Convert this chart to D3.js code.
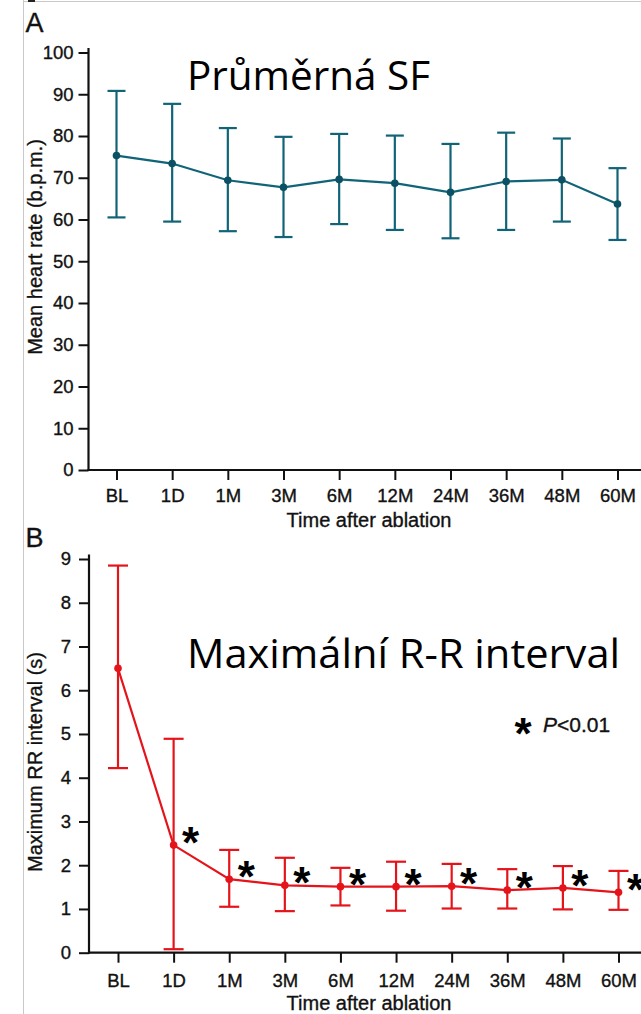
<!DOCTYPE html>
<html><head><meta charset="utf-8">
<script src="https://cdn.jsdelivr.net/npm/d3@7"></script>
<style>html,body{margin:0;padding:0;background:#fff;}svg{display:block;}</style>
</head><body>
<script>
// ---- data ----
const categories = ["BL","1D","1M","3M","6M","12M","24M","36M","48M","60M"];
const hrMean  = [75.3,73.4,69.4,67.7,69.6,68.7,66.5,69.1,69.5,63.7];
const hrUpper = [90.8,87.7,81.9,79.8,80.5,80.1,78.1,80.8,79.4,72.3];
const hrLower = [60.5,59.5,57.2,55.8,58.9,57.5,55.5,57.5,59.5,55.1];
const rrMean  = [6.50,2.46,1.68,1.54,1.51,1.51,1.52,1.43,1.48,1.38];
const rrUpper = [8.85,4.89,2.35,2.17,1.94,2.08,2.03,1.91,1.98,1.87];
const rrLower = [4.22,0.08,1.05,0.95,1.08,0.96,1.01,1.01,0.99,0.98];
const rrSignificant = [false,true,true,true,true,true,true,true,true,true];
const hrTicks = [0,10,20,30,40,50,60,70,80,90,100];
const rrTicks = [0,1,2,3,4,5,6,7,8,9];
const xTitle = "Time after ablation";
const yTitleA = "Mean heart rate (b.p.m.)";
const yTitleB = "Maximum RR interval (s)";
const titleA = "Průměrná SF";
const titleB = "Maximální R-R interval";

const W = 641, H = 1014;
const svg = d3.select("body").append("svg").attr("width", W).attr("height", H);
svg.append("rect").attr("width", W).attr("height", H).attr("fill", "#fff");
// frame
svg.append("line").attr("x1",23.5).attr("x2",23.5).attr("y1",0).attr("y2",H).attr("stroke","#c9c9c9").attr("stroke-width",1);
svg.append("line").attr("x1",23).attr("x2",W).attr("y1",1.5).attr("y2",1.5).attr("stroke","#c9c9c9").attr("stroke-width",1);
svg.append("rect").attr("x",28).attr("y",0).attr("width",7).attr("height",2).attr("fill","#222");

const axisFont = "'Liberation Sans', Arial, Helvetica, sans-serif";
const ink = "#111";

function heavy(sel) {
  return sel.attr("stroke", ink).attr("stroke-width", 0.35).attr("paint-order", "stroke");
}

function panel(opt) {
  const g = svg.append("g");
  const x = d3.scalePoint().domain(categories).range(opt.xRange);
  const y = d3.scaleLinear().domain(opt.yDomain).range(opt.yRange);
  const ax = opt.axisX;

  // y axis
  const yAxis = g.append("g").attr("transform", `translate(${ax},0)`)
    .call(d3.axisLeft(y).tickValues(opt.ticks).tickSize(10).tickPadding(opt.yPad).tickSizeOuter(0));
  yAxis.select(".domain").remove();
  yAxis.selectAll("line").attr("stroke", ink).attr("stroke-width", 2);
  heavy(yAxis.selectAll("text").attr("font-family", axisFont).attr("font-size", 18.5).attr("fill", ink));
  g.append("line").attr("x1", ax).attr("x2", ax)
    .attr("y1", y(opt.yDomain[0]) + 1).attr("y2", y(opt.yDomain[1]) - 4.5)
    .attr("stroke", ink).attr("stroke-width", 2.2);

  // x axis
  const y0 = y(opt.yDomain[0]);
  const xAxis = g.append("g").attr("transform", `translate(0,${y0})`)
    .call(d3.axisBottom(x).tickSize(10).tickPadding(opt.xPad).tickSizeOuter(0));
  xAxis.select(".domain").remove();
  xAxis.selectAll("line").attr("stroke", ink).attr("stroke-width", 2);
  heavy(xAxis.selectAll("text").attr("font-family", axisFont).attr("font-size", 18.5).attr("fill", ink));
  g.append("line").attr("x1", ax - 1).attr("x2", W).attr("y1", y0).attr("y2", y0)
    .attr("stroke", ink).attr("stroke-width", 2.2);

  // axis titles
  heavy(g.append("text").attr("x", 369).attr("y", opt.xTitleY).attr("text-anchor", "middle")
    .attr("font-family", axisFont).attr("font-size", 20).attr("fill", ink).text(xTitle));
  heavy(g.append("text").attr("transform", `translate(41.5,${opt.yTitleCY}) rotate(-90)`)
    .attr("text-anchor", "middle").attr("font-family", axisFont).attr("font-size", 20)
    .attr("fill", ink).text(opt.yTitle));

  // panel letter
  heavy(g.append("text").attr("x", 25.5).attr("y", opt.letterY).attr("font-family", axisFont)
    .attr("font-size", 27).attr("fill", ink).text(opt.letter));

  // title
  g.append("text").attr("x", 187).attr("y", opt.titleY)
    .attr("font-family", "'Open Sans', 'Noto Sans', sans-serif").attr("font-size", 40)
    .attr("textLength", opt.titleLen).attr("lengthAdjust", "spacingAndGlyphs")
    .attr("fill", "#000").text(opt.title);

  const data = categories.map((c, i) => ({c, m: opt.mean[i], u: opt.upper[i], l: opt.lower[i]}));

  // error bars
  const eb = g.append("g").attr("stroke", opt.color).attr("stroke-width", 2.2).attr("fill", "none");
  data.forEach(d => {
    eb.append("line").attr("x1", x(d.c)).attr("x2", x(d.c)).attr("y1", y(d.u)).attr("y2", y(d.l));
    eb.append("line").attr("x1", x(d.c) - opt.cap).attr("x2", x(d.c) + opt.cap).attr("y1", y(d.u)).attr("y2", y(d.u));
    eb.append("line").attr("x1", x(d.c) - opt.cap).attr("x2", x(d.c) + opt.cap).attr("y1", y(d.l)).attr("y2", y(d.l));
  });
  // line
  g.append("path").datum(data)
    .attr("d", d3.line().x(d => x(d.c)).y(d => y(d.m)))
    .attr("fill", "none").attr("stroke", opt.color).attr("stroke-width", 2.2);
  // points
  g.selectAll(null).data(data).enter().append("circle")
    .attr("cx", d => x(d.c)).attr("cy", d => y(d.m)).attr("r", 3.8).attr("fill", opt.dotColor);

  return {g, x, y, data};
}

const A = panel({
  xRange: [116.5, 617.5], yDomain: [0, 100], yRange: [470, 52.5], axisX: 88.5,
  ticks: hrTicks, yPad: 5, xPad: 9, xTitleY: 527, yTitle: yTitleA, yTitleCY: 247,
  letter: "A", letterY: 32, title: titleA, titleY: 90, titleLen: 243,
  mean: hrMean, upper: hrUpper, lower: hrLower, color: "#116478", dotColor: "#0b5063", cap: 9
});

const B = panel({
  xRange: [118, 618.5], yDomain: [0, 9], yRange: [952.7, 559], axisX: 89,
  ticks: rrTicks, yPad: 8, xPad: 11, xTitleY: 1010, yTitle: yTitleB, yTitleCY: 762,
  letter: "B", letterY: 547, title: titleB, titleY: 668, titleLen: 433,
  mean: rrMean, upper: rrUpper, lower: rrLower, color: "#e5141b", dotColor: "#e5141b", cap: 10
});

// significance asterisks
const starSize = 44;
const starShift = starSize * 0.5;
B.g.selectAll(null).data(B.data.filter((d, i) => rrSignificant[i])).enter().append("text")
  .attr("x", d => B.x(d.c) + 17).attr("y", d => B.y(d.m) - 9 + starShift)
  .attr("text-anchor", "middle").attr("font-family", axisFont).attr("font-weight", "bold")
  .attr("font-size", starSize).attr("fill", "#000").text("*");

// legend
B.g.append("text").attr("x", 523).attr("y", 727 + starShift).attr("text-anchor", "middle")
  .attr("font-family", axisFont).attr("font-weight", "bold").attr("font-size", starSize).attr("fill", "#000").text("*");
const leg = heavy(B.g.append("text").attr("x", 543).attr("y", 732).attr("font-family", axisFont)
  .attr("font-size", 21).attr("fill", ink));
leg.append("tspan").attr("font-style", "italic").text("P");
leg.append("tspan").text("<0.01");
</script>
</body></html>
